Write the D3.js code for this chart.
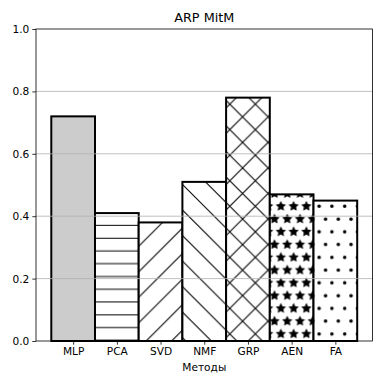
<!DOCTYPE html>
<html lang="en">

<head>
    <meta charset="UTF-8">
    <meta name="viewport" content="width=device-width, initial-scale=1.0">
    <title>ARP MitM</title>
    <script src="https://d3js.org/d3.v7.min.js"></script>
    <style>
        body {
            margin: 0;
            padding: 0;
            background: #fff;
        }

        svg text {
            font-family: "DejaVu Sans", sans-serif;
            fill: #000;
        }
    </style>
</head>

<body>
    <div id="chart"></div>

    <script>
        // Data
        const methods = ['MLP', 'PCA', 'SVD', 'NMF', 'GRP', 'AEN', 'FA'];
        const scores = [0.72, 0.41, 0.38, 0.51, 0.78, 0.47, 0.45];
        const hatches = ['', '-', '/', '\\', 'x', '*', '.'];
        const yTicks = [0.0, 0.2, 0.4, 0.6, 0.8, 1.0];

        const width = 383;
        const height = 385;
        const margin = { top: 29, right: 10.5, bottom: 44, left: 36 };

        const svg = d3.select('#chart')
            .append('svg')
            .attr('width', width)
            .attr('height', height);

        const x = d3.scaleLinear()
            .domain([-0.85, methods.length - 1 + 0.85])
            .range([margin.left, width - margin.right]);

        const y = d3.scaleLinear()
            .domain([0, 1])
            .range([height - margin.bottom, margin.top]);

        // Hatch tiles, anchored at the bottom-left corner of the figure
        const T = 76.6;
        const defs = svg.append('defs');

        function tilePt(u, v) {
            return [u * T, T - v * T];
        }

        function hatchPath(h) {
            let d = '';
            const n = 6;
            if (h === '-') {
                for (let i = 0; i < n; i++) {
                    const v = (i + 0.5) / n;
                    const a = tilePt(0, v), b = tilePt(1, v);
                    d += `M${a}L${b}`;
                }
            }
            if (h === '/' || h === 'x') {
                d3.range(n + 1).forEach(k => {
                    const s = -0.5 + k / n;
                    const a = tilePt(s, -s), b = tilePt(1 + s, 1 - s);
                    d += `M${a}L${b}`;
                });
            }
            if (h === '\\' || h === 'x') {
                d3.range(n + 1).forEach(k => {
                    const s = -0.5 + k / n;
                    const a = tilePt(s, 1 + s), b = tilePt(1 + s, s);
                    d += `M${a}L${b}`;
                });
            }
            return d;
        }

        // star / dot positions as in matplotlib's Shapes hatches
        function shapeCenters() {
            const n = 6, off = 1 / n, pts = [];
            for (let row = 0; row <= n; row++) {
                const cols = row % 2 === 0
                    ? d3.range(n + 1).map(i => i / n)
                    : d3.range(n).map(i => off / 2 + i * off);
                cols.forEach(c => pts.push([c, row * off]));
            }
            return pts;
        }

        function starPath(cu, cv) {
            const r = (1 / 6) * (1 / 3);
            const pts = d3.range(11).map(i => {
                const th = Math.PI / 5 * i + Math.PI / 2;
                const rr = i % 2 ? r * 0.5 : r;
                return tilePt(cu + rr * Math.cos(th), cv + rr * Math.sin(th));
            });
            return 'M' + pts.join('L') + 'Z';
        }

        hatches.forEach((h, i) => {
            if (!h) return;
            const p = defs.append('pattern')
                .attr('id', 'hatch' + i)
                .attr('patternUnits', 'userSpaceOnUse')
                .attr('x', 0)
                .attr('y', height - T)
                .attr('width', T)
                .attr('height', T);

            p.append('rect')
                .attr('width', T)
                .attr('height', T)
                .attr('fill', '#fff');

            if (h === '*') {
                p.append('path')
                    .attr('d', shapeCenters().map(c => starPath(c[0], c[1])).join(''))
                    .attr('fill', '#000')
                    .attr('stroke', '#000')
                    .attr('stroke-width', 1);
            } else if (h === '.') {
                shapeCenters().forEach(c => {
                    const [cx, cy] = tilePt(c[0], c[1]);
                    p.append('circle')
                        .attr('cx', cx)
                        .attr('cy', cy)
                        .attr('r', 0.1 / 6 * T)
                        .attr('fill', '#000')
                        .attr('stroke', '#000')
                        .attr('stroke-width', 1);
                });
            } else {
                p.append('path')
                    .attr('d', hatchPath(h))
                    .attr('stroke', '#000')
                    .attr('stroke-width', 1.05)
                    .attr('fill', 'none');
            }
        });

        // Bars
        svg.append('g')
            .selectAll('rect')
            .data(methods)
            .enter()
            .append('rect')
            .attr('x', (d, i) => x(i - 0.5))
            .attr('y', (d, i) => y(scores[i]))
            .attr('width', (d, i) => x(i + 0.5) - x(i - 0.5))
            .attr('height', (d, i) => y(0) - y(scores[i]))
            .attr('fill', (d, i) => hatches[i] ? `url(#hatch${i})` : '#cccccc')
            .attr('stroke', '#000')
            .attr('stroke-width', 2);

        // Grid lines (drawn above the bars like matplotlib does)
        svg.append('g')
            .selectAll('line')
            .data(yTicks.slice(1, -1))
            .enter()
            .append('line')
            .attr('x1', margin.left)
            .attr('x2', width - margin.right)
            .attr('y1', d => y(d))
            .attr('y2', d => y(d))
            .attr('stroke', '#b0b0b0')
            .attr('stroke-width', 0.8);

        // Axes
        const yAxis = d3.axisLeft(y)
            .tickValues(yTicks)
            .tickFormat(d3.format('.1f'))
            .tickSize(3.7)
            .tickPadding(3);

        const xAxis = d3.axisBottom(x)
            .tickValues(d3.range(methods.length))
            .tickFormat(i => methods[i])
            .tickSize(3.7)
            .tickPadding(3);

        const gy = svg.append('g')
            .attr('transform', `translate(${margin.left},0)`)
            .call(yAxis);

        const gx = svg.append('g')
            .attr('transform', `translate(0,${height - margin.bottom})`)
            .call(xAxis);

        [gx, gy].forEach(g => {
            g.select('.domain').remove();
            g.selectAll('.tick line').attr('stroke', '#000').attr('stroke-width', 0.8);
            g.selectAll('.tick text').style('font-size', '10.6px');
        });

        // Frame
        svg.append('rect')
            .attr('x', margin.left)
            .attr('y', margin.top)
            .attr('width', width - margin.left - margin.right)
            .attr('height', height - margin.top - margin.bottom)
            .attr('fill', 'none')
            .attr('stroke', '#000')
            .attr('stroke-width', 0.8);

        // Title and axis label
        const cx = (margin.left + width - margin.right) / 2;

        svg.append('text')
            .attr('x', cx)
            .attr('y', 22)
            .attr('text-anchor', 'middle')
            .style('font-size', '12.8px')
            .text('ARP MitM');

        svg.append('text')
            .attr('x', cx)
            .attr('y', 371)
            .attr('text-anchor', 'middle')
            .style('font-size', '10.6px')
            .text('Методы');
    </script>
</body>

</html>
